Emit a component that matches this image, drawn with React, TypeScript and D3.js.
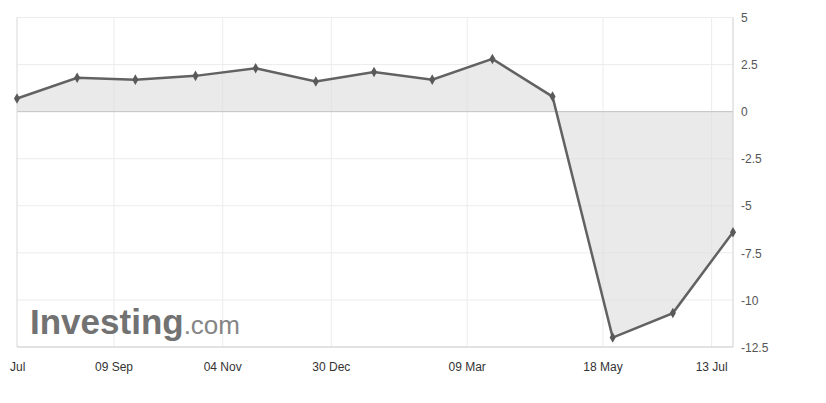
import React, { useEffect, useRef } from "react";
import * as d3 from "d3";

// Release dates and values
const dates = [
  "2019-07-21", "2019-08-21", "2019-09-20", "2019-10-21", "2019-11-21", "2019-12-22",
  "2020-01-21", "2020-02-20", "2020-03-22", "2020-04-22", "2020-05-23", "2020-06-23", "2020-07-24",
];
const values = [0.7, 1.8, 1.7, 1.9, 2.3, 1.6, 2.1, 1.7, 2.8, 0.8, -12.0, -10.7, -6.4];

const tickDates = ["2019-07-21", "2019-09-09", "2019-11-04", "2019-12-30", "2020-03-09", "2020-05-18", "2020-07-13"];
const tickLabels = ["Jul", "09 Sep", "04 Nov", "30 Dec", "09 Mar", "18 May", "13 Jul"];
const yTicks = [5, 2.5, 0, -2.5, -5, -7.5, -10, -12.5];

const App = () => {
  const ref = useRef<SVGSVGElement>(null);

  useEffect(() => {
    document.body.style.margin = "0";
    const width = 826,
      height = 403;
    const left = 17,
      right = 733,
      top = 17.5,
      bottom = 347;

    const parse = d3.timeParse("%Y-%m-%d");
    const data = dates.map((d, i) => ({ date: parse(d) as Date, value: values[i] }));

    const svg = d3.select(ref.current).attr("width", width).attr("height", height);
    svg.selectAll("*").remove();

    const x = d3
      .scaleTime()
      .domain([data[0].date, data[data.length - 1].date])
      .range([left, right]);
    const y = d3.scaleLinear().domain([-12.5, 5]).range([bottom, top]);

    const font = "Arial, 'Liberation Sans', sans-serif";

    // Gridlines
    svg
      .append("g")
      .selectAll("line")
      .data(yTicks)
      .enter()
      .append("line")
      .attr("x1", left)
      .attr("x2", right)
      .attr("y1", (d) => y(d))
      .attr("y2", (d) => y(d))
      .attr("stroke", "#ececec")
      .attr("stroke-width", 1);

    svg
      .append("g")
      .selectAll("line")
      .data(tickDates.slice(1))
      .enter()
      .append("line")
      .attr("x1", (d) => x(parse(d) as Date))
      .attr("x2", (d) => x(parse(d) as Date))
      .attr("y1", top)
      .attr("y2", bottom)
      .attr("stroke", "#ececec")
      .attr("stroke-width", 1);

    // Watermark
    const mark = svg.append("text").attr("x", 30).attr("y", 334).style("font-family", font);
    mark
      .append("tspan")
      .text("Investing")
      .attr("font-size", 35)
      .attr("font-weight", "bold")
      .attr("fill", "#727272");
    mark.append("tspan").text(".com").attr("font-size", 26).attr("fill", "#858585");

    // Area between line and zero
    const area = d3
      .area<{ date: Date; value: number }>()
      .x((d) => x(d.date))
      .y0(y(0))
      .y1((d) => y(d.value));
    svg.append("path").datum(data).attr("d", area).attr("fill", "#dcdcdc").attr("opacity", 0.6);

    // Zero line and borders
    svg
      .append("line")
      .attr("x1", left)
      .attr("x2", right)
      .attr("y1", y(0))
      .attr("y2", y(0))
      .attr("stroke", "#c4c4c4");
    svg
      .append("line")
      .attr("x1", left)
      .attr("x2", left)
      .attr("y1", top)
      .attr("y2", bottom)
      .attr("stroke", "#d8d8d8");
    svg
      .append("line")
      .attr("x1", left)
      .attr("x2", right)
      .attr("y1", bottom)
      .attr("y2", bottom)
      .attr("stroke", "#cfcfcf");
    svg
      .append("line")
      .attr("x1", right)
      .attr("x2", right)
      .attr("y1", top)
      .attr("y2", bottom)
      .attr("stroke", "#cfcfcf");

    // Line
    const line = d3
      .line<{ date: Date; value: number }>()
      .x((d) => x(d.date))
      .y((d) => y(d.value));
    svg
      .append("path")
      .datum(data)
      .attr("d", line)
      .attr("fill", "none")
      .attr("stroke", "#626262")
      .attr("stroke-width", 2.5);

    // Markers
    const symbol = d3.symbol().type(d3.symbolDiamond).size(32);
    svg
      .append("g")
      .selectAll("path")
      .data(data)
      .enter()
      .append("path")
      .attr("d", symbol)
      .attr("transform", (d) => `translate(${x(d.date)},${y(d.value)})`)
      .attr("fill", "#5a5a5a");

    // Y axis labels
    svg
      .append("g")
      .selectAll("text")
      .data(yTicks)
      .enter()
      .append("text")
      .attr("x", 741)
      .attr("y", (d) => y(d) + 1.5)
      .attr("dominant-baseline", "middle")
      .style("font-family", font)
      .style("font-size", "12px")
      .attr("fill", "#555")
      .text((d) => String(d));

    // X axis labels
    svg
      .append("g")
      .selectAll("text")
      .data(tickDates)
      .enter()
      .append("text")
      .attr("x", (d, i) => (i === 0 ? 10 : x(parse(d) as Date)))
      .attr("y", 371)
      .attr("text-anchor", (d, i) => (i === 0 ? "start" : "middle"))
      .style("font-family", font)
      .style("font-size", "12px")
      .attr("fill", "#333")
      .text((d, i) => tickLabels[i]);
  }, []);

  return <svg ref={ref} width="826" height="403"></svg>;
};

export default App;
